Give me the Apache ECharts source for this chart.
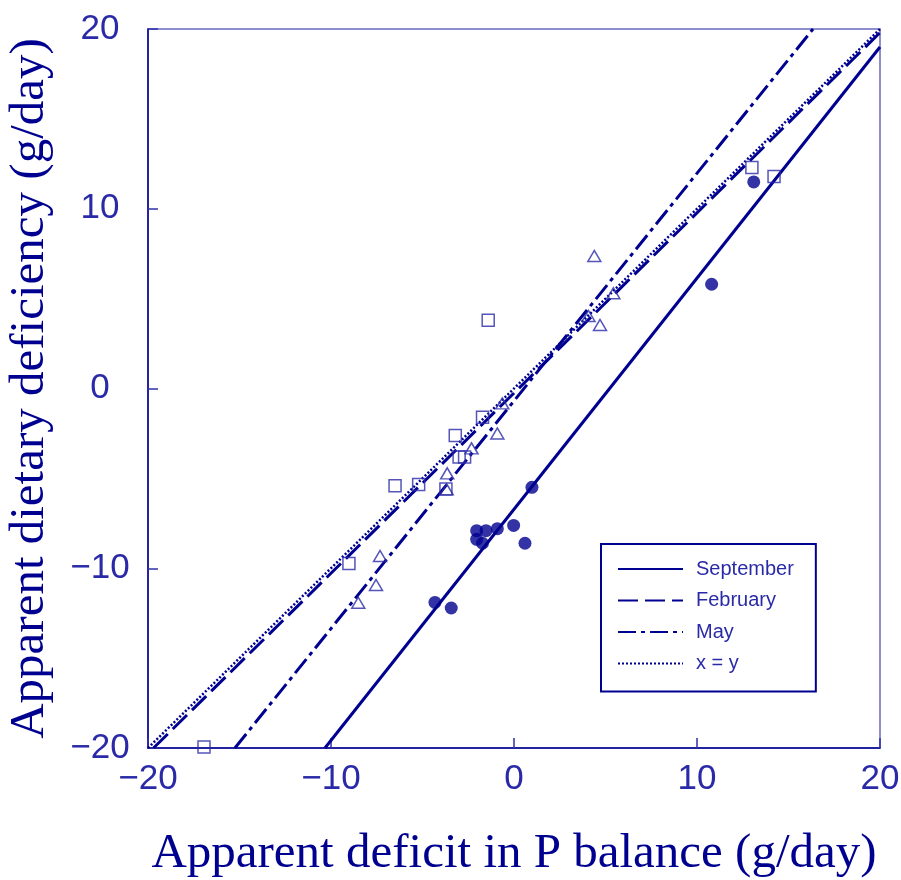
<!DOCTYPE html>
<html>
<head>
<meta charset="utf-8">
<script src="https://cdn.jsdelivr.net/npm/echarts@6/dist/echarts.min.js"></script>
<style>html,body{margin:0;padding:0;background:#fff}#c{width:901px;height:880px}</style>
</head>
<body>
<div id="c"></div>
<script>
// September (filled circles)
var sepX = [-2.04, -1.53, -0.91, -0.02, 0.60, -2.04, -1.72, 0.98, -4.32, -3.43, 13.1, 10.8];
var sepY = [-7.91, -7.91, -7.80, -7.62, -8.61, -8.39, -8.61, -5.50, -11.90, -12.21, 11.49, 5.80];
// February (open squares)
var febX = [-1.72, -3.21, -3.0, -2.7, -6.50, -5.21, -3.72, -9.02, -1.41, 13.0, 14.21, -16.94];
var febY = [-1.60, -2.61, -3.81, -3.81, -5.41, -5.34, -5.59, -9.73, 3.79, 12.30, 11.80, -19.94];
// May (open triangles)
var mayX = [-0.91, -2.32, -3.65, -3.68, -7.32, -7.54, -8.51, 4.39, 4.70, 5.43, 4.07, -0.64];
var mayY = [-2.50, -3.33, -4.72, -5.61, -9.32, -10.93, -11.92, 7.37, 3.53, 5.30, 4.03, -0.83];
// fitted lines (endpoints)
var sepLineX = [-10.33, 20], sepLineY = [-20, 19.0];
var febLineX = [-19.7, 20], febLineY = [-20, 19.8];
var mayLineX = [-15.25, 16.34], mayLineY = [-20, 20];
var xyLineX = [-20, 20], xyLineY = [-20, 20];
var ticks = [-20, -10, 0, 10, 20];
var legendNames = ['September', 'February', 'May', 'x = y'];

function pairs(xs, ys) { return xs.map(function (x, i) { return [x, ys[i]]; }); }
function fmt(v) { return String(v).replace('-', '\u2212'); }

var NAVY = '#000090';
var chart = echarts.init(document.getElementById('c'), null, { renderer: 'canvas' });
var axisCommon = {
  type: 'value', min: ticks[0], max: ticks[ticks.length - 1], interval: 10,
  splitLine: { show: false },
  axisLine: { show: true, onZero: false, lineStyle: { color: NAVY, width: 1.5 } },
  axisTick: { show: true, inside: true, length: 10, lineStyle: { color: '#3030a8', width: 1.5 } },
  axisLabel: { color: '#2a2aa8', fontFamily: 'Liberation Sans', fontSize: 35, formatter: fmt },
  nameLocation: 'middle',
  nameTextStyle: { color: NAVY, fontFamily: 'Liberation Serif', fontSize: 49 }
};
chart.setOption({
  animation: false,
  backgroundColor: '#fff',
  grid: { left: 148, right: 21, top: 29, bottom: 132, show: true, borderColor: '#6a6ac0', borderWidth: 1.5,
          containLabel: false, outerBoundsMode: 'none' },
  xAxis: Object.assign({}, axisCommon, {
    name: 'Apparent deficit in P balance (g/day)', nameGap: 82,
    axisLabel: Object.assign({}, axisCommon.axisLabel, { margin: 14 })
  }),
  yAxis: Object.assign({}, axisCommon, {
    name: 'Apparent dietary deficiency (g/day)', nameGap: 93,
    axisLabel: Object.assign({}, axisCommon.axisLabel, { margin: 48, align: 'center' })
  }),
  legend: {
    data: legendNames, orient: 'vertical', left: 601, top: 544,
    padding: [15, 22, 18, 16], itemWidth: 65, itemHeight: 14, itemGap: 11.5,
    borderColor: NAVY, borderWidth: 2, backgroundColor: '#fff',
    itemStyle: { opacity: 0 },
    textStyle: { color: '#2a2aa8', fontFamily: 'Liberation Sans', fontSize: 20, padding: [0, 0, 0, 8] }
  },
  series: [
    { name: 'September', type: 'line', data: pairs(sepLineX, sepLineY), symbol: 'none', z: 3,
      lineStyle: { color: NAVY, width: 3, type: 'solid' }, itemStyle: { color: NAVY } },
    { name: 'February', type: 'line', data: pairs(febLineX, febLineY), symbol: 'none', z: 3,
      lineStyle: { color: NAVY, width: 3, type: [20, 7] }, itemStyle: { color: NAVY } },
    { name: 'May', type: 'line', data: pairs(mayLineX, mayLineY), symbol: 'none', z: 3,
      lineStyle: { color: NAVY, width: 3, type: [18, 5, 4, 5] }, itemStyle: { color: NAVY } },
    { name: 'x = y', type: 'line', data: pairs(xyLineX, xyLineY), symbol: 'none', z: 3,
      lineStyle: { color: NAVY, width: 2.5, type: [2, 2] }, itemStyle: { color: NAVY } },
    { name: 'Sep pts', type: 'scatter', data: pairs(sepX, sepY), symbol: 'circle', symbolSize: 13, z: 4,
      itemStyle: { color: NAVY } },
    { name: 'Feb pts', type: 'scatter', data: pairs(febX, febY), symbol: 'rect', symbolSize: 12, z: 4,
      itemStyle: { color: 'rgba(255,255,255,0)', borderColor: '#2a2aa8', borderWidth: 1.5 } },
    { name: 'May pts', type: 'scatter', data: pairs(mayX, mayY), symbol: 'triangle', symbolSize: [13, 11], z: 4,
      itemStyle: { color: 'rgba(255,255,255,0)', borderColor: '#2a2aa8', borderWidth: 1.5 } }
  ]
});
</script>
</body>
</html>
